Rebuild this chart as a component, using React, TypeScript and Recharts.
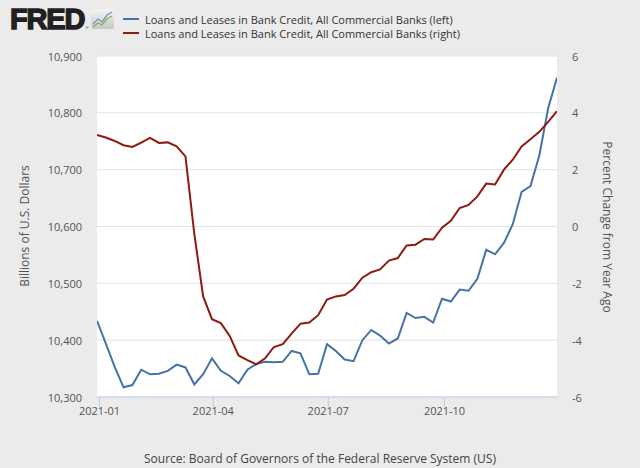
import React from "react";
import {
  ComposedChart,
  Line,
  XAxis,
  YAxis,
  CartesianGrid,
} from "recharts";

// weekly observations (Wednesdays)
const dates = [
  "2020-12-30", "2021-01-06", "2021-01-13", "2021-01-20", "2021-01-27",
  "2021-02-03", "2021-02-10", "2021-02-17", "2021-02-24", "2021-03-03",
  "2021-03-10", "2021-03-17", "2021-03-24", "2021-03-31", "2021-04-07",
  "2021-04-14", "2021-04-21", "2021-04-28", "2021-05-05", "2021-05-12",
  "2021-05-19", "2021-05-26", "2021-06-02", "2021-06-09", "2021-06-16",
  "2021-06-23", "2021-06-30", "2021-07-07", "2021-07-14", "2021-07-21",
  "2021-07-28", "2021-08-04", "2021-08-11", "2021-08-18", "2021-08-25",
  "2021-09-01", "2021-09-08", "2021-09-15", "2021-09-22", "2021-09-29",
  "2021-10-06", "2021-10-13", "2021-10-20", "2021-10-27", "2021-11-03",
  "2021-11-10", "2021-11-17", "2021-11-24", "2021-12-01", "2021-12-08",
  "2021-12-15", "2021-12-22", "2021-12-29",
];

// Loans and Leases in Bank Credit, billions of dollars (left)
const levels = [
  10434, 10394, 10353, 10317, 10321, 10348, 10340, 10341, 10346, 10357,
  10352, 10322, 10340, 10368, 10346, 10337, 10324, 10348, 10358, 10362,
  10361, 10362, 10381, 10377, 10340, 10341, 10393, 10381, 10366, 10363,
  10400, 10418, 10408, 10394, 10403, 10448, 10439, 10441, 10431, 10473,
  10468, 10489, 10487, 10508, 10559, 10551, 10571, 10604, 10661, 10671,
  10725, 10808, 10862,
];

// percent change from year ago (right)
const pctChange = [
  3.22, 3.13, 3.01, 2.86, 2.8, 2.95, 3.12, 2.94, 2.96, 2.82,
  2.47, -0.26, -2.46, -3.26, -3.4, -3.85, -4.54, -4.7, -4.85, -4.64,
  -4.24, -4.14, -3.77, -3.42, -3.38, -3.12, -2.57, -2.46, -2.41, -2.19,
  -1.8, -1.61, -1.51, -1.2, -1.11, -0.67, -0.64, -0.44, -0.46, -0.04,
  0.2, 0.65, 0.76, 1.06, 1.51, 1.48, 2.0, 2.35, 2.82, 3.07,
  3.33, 3.68, 4.06,
];

const xTickLabels = ["2021-01", "2021-04", "2021-07", "2021-10"];
const leftTicks = [10300, 10400, 10500, 10600, 10700, 10800, 10900];
const rightTicks = [-6, -4, -2, 0, 2, 4, 6];

const seriesLabel = "Loans and Leases in Bank Credit, All Commercial Banks";

const toTs = (d: string) => Date.parse(d + "T00:00:00Z");
const data = dates.map((d, i) => ({ t: toTs(d), level: levels[i], pct: pctChange[i] }));
const xTicks = xTickLabels.map((m) => toTs(m + "-01"));

const FONT = "'Open Sans', 'Noto Sans', sans-serif";
const BLUE = "#4572a7";
const RED = "#8e1a10";
const TEXT = "#555";
const AXIS_BLUE = "#bccde6";

const fmtMonth = (ts: number) => {
  const d = new Date(ts);
  return `${d.getUTCFullYear()}-${String(d.getUTCMonth() + 1).padStart(2, "0")}`;
};

const LeftTick = (props: any) => (
  <text x={props.x} y={props.y} textAnchor="end" dominantBaseline="central"
    fontSize={11} fontFamily={FONT} fill={TEXT}>
    {props.payload.value.toLocaleString("en-US")}
  </text>
);

const RightTick = (props: any) => (
  <text x={props.x} y={props.y} textAnchor="start" dominantBaseline="central"
    fontSize={11} fontFamily={FONT} fill={TEXT}>
    {props.payload.value}
  </text>
);

const BottomTick = (props: any) => (
  <text x={props.x} y={props.y} dy="0.71em" textAnchor="middle"
    fontSize={11} fontFamily={FONT} fill={TEXT}>
    {fmtMonth(props.payload.value)}
  </text>
);

function FredLogo() {
  return (
    <div style={{ position: "absolute", left: 10, top: 5, display: "flex", alignItems: "center" }}>
      <span style={{
        fontFamily: "'Liberation Sans', Arial, sans-serif", fontWeight: 900, fontSize: 29,
        letterSpacing: -1.2, color: "#231f20", lineHeight: "28px",
        WebkitTextStroke: "1.4px #231f20",
      }}>FRED</span>
      <span style={{ fontSize: 5, color: "#231f20", alignSelf: "flex-end", marginBottom: 3, marginLeft: 1 }}>®</span>
      <svg width={23} height={20} style={{ marginLeft: 2 }}>
        <defs>
          <linearGradient id="lg" x1="0" y1="0" x2="0" y2="1">
            <stop offset="0" stopColor="#f4f4f4" />
            <stop offset="1" stopColor="#c8c8c8" />
          </linearGradient>
        </defs>
        <rect x={0} y={0} width={23} height={20} rx={2} fill="url(#lg)" />
        <polyline points="2,15 7,10 11,13 16,6 21,3" fill="none" stroke="#6a98c8" strokeWidth={1.3} />
        <polyline points="2,18 7,14 11,16 16,10 21,7" fill="none" stroke="#8ab04a" strokeWidth={1.3} />
      </svg>
    </div>
  );
}

function Legend() {
  const row = (color: string, text: string, top: number) => (
    <div style={{ position: "absolute", left: 123, top, display: "flex", alignItems: "center", height: 14 }}>
      <div style={{ width: 16, height: 2, background: color }} />
      <span style={{ marginLeft: 6, fontFamily: FONT, fontSize: 11, color: "#333", whiteSpace: "nowrap" }}>
        {text}
      </span>
    </div>
  );
  return (
    <>
      {row(BLUE, `${seriesLabel} (left)`, 12)}
      {row(RED, `${seriesLabel} (right)`, 26)}
    </>
  );
}

export default function App() {
  return (
    <div style={{ position: "absolute", left: 0, top: 0, width: 640, height: 468, background: "#ebebeb", overflow: "hidden" }}>
      <ComposedChart width={640} height={468} data={data}
        margin={{ top: 56, right: 0, bottom: 41, left: 0 }}>
        <CartesianGrid yAxisId="left" vertical={false} horizontal stroke="#e2e2e2" fill="#ffffff" />
        <XAxis dataKey="t" type="number" scale="time" domain={[data[0].t, data[data.length - 1].t]}
          ticks={xTicks} height={30} tickSize={10} tickMargin={0}
          axisLine={{ stroke: AXIS_BLUE }} tickLine={{ stroke: AXIS_BLUE }}
          tick={<BottomTick />} interval={0} allowDataOverflow />
        <YAxis yAxisId="left" orientation="left" width={97} domain={[10300, 10900]}
          ticks={leftTicks} axisLine={false} tickLine={false} tickSize={0} tickMargin={15}
          tick={<LeftTick />} interval={0} allowDataOverflow />
        <YAxis yAxisId="right" orientation="right" width={83} domain={[-6, 6]}
          ticks={rightTicks} axisLine={false} tickLine={false} tickSize={0} tickMargin={15}
          tick={<RightTick />} interval={0} allowDataOverflow />
        <Line yAxisId="left" dataKey="level" stroke={BLUE} strokeWidth={2} dot={false}
          type="linear" isAnimationActive={false} />
        <Line yAxisId="right" dataKey="pct" stroke={RED} strokeWidth={2} dot={false}
          type="linear" isAnimationActive={false} />
      </ComposedChart>

      <FredLogo />
      <Legend />

      <div style={{
        position: "absolute", left: 24, top: 226, transform: "translate(-50%, -50%) rotate(-90deg)",
        fontFamily: FONT, fontSize: 12, color: TEXT, whiteSpace: "nowrap",
      }}>Billions of U.S. Dollars</div>
      <div style={{
        position: "absolute", left: 607, top: 227, transform: "translate(-50%, -50%) rotate(90deg)",
        fontFamily: FONT, fontSize: 12, color: TEXT, whiteSpace: "nowrap",
      }}>Percent Change from Year Ago</div>
      <div style={{
        position: "absolute", left: 0, width: 640, top: 450, textAlign: "center",
        fontFamily: FONT, fontSize: 12, color: "#444",
      }}>Source: Board of Governors of the Federal Reserve System (US)</div>
    </div>
  );
}
